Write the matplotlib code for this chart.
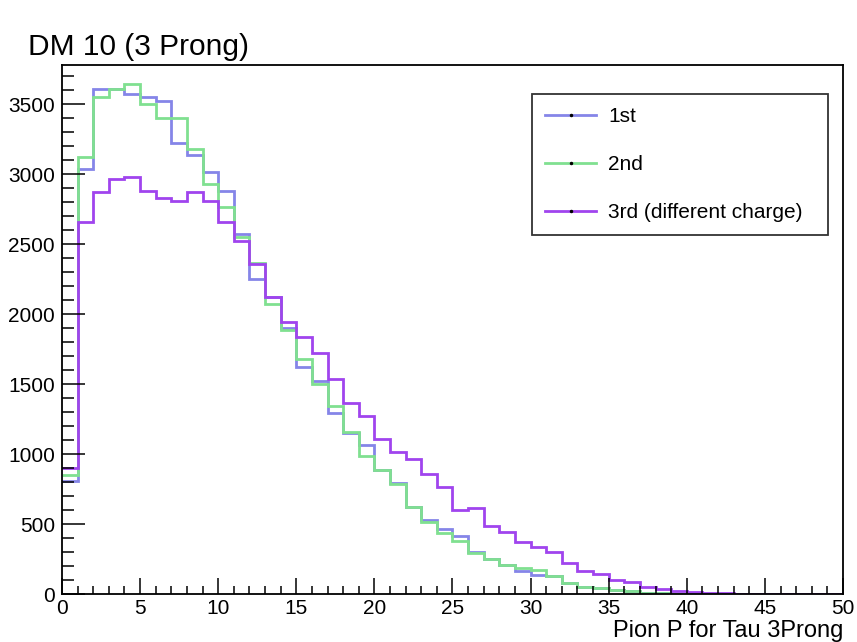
import numpy as np
import matplotlib
matplotlib.use('Agg')
import matplotlib.pyplot as plt
from matplotlib.lines import Line2D
from matplotlib.ticker import MultipleLocator

plt.rcParams['font.family'] = ['Liberation Sans', 'DejaVu Sans']

edges = np.arange(0, 51)

first = [810, 3040, 3610, 3610, 3575, 3550, 3522, 3223, 3140, 3020,
         2880, 2578, 2252, 2123, 1900, 1623, 1527, 1294, 1155, 1068,
         889, 796, 627, 535, 468, 418, 306, 251, 211, 170,
         142, 130, 85, 55, 45, 34, 28, 14, 9, 6,
         4, 3, 2, 2, 1, 1, 1, 0, 0, 0]
second = [850, 3123, 3550, 3610, 3644, 3505, 3401, 3401, 3180, 2932,
          2770, 2552, 2368, 2072, 1890, 1680, 1500, 1346, 1163, 989,
          889, 790, 627, 518, 437, 384, 296, 251, 211, 186,
          177, 135, 84, 51, 44, 33, 26, 10, 8, 5,
          4, 3, 2, 1, 1, 1, 0, 0, 0, 0]
third = [900, 2660, 2877, 2970, 2984, 2880, 2835, 2812, 2872, 2813,
         2662, 2524, 2358, 2123, 1949, 1840, 1727, 1537, 1366, 1277,
         1109, 1020, 966, 858, 768, 600, 620, 489, 449, 377,
         340, 306, 223, 170, 146, 106, 92, 51, 37, 27,
         15, 11, 8, 6, 4, 3, 2, 2, 1, 1]

labels = ['1st', '2nd', '3rd (different charge)']
colors = ['#8585e8', '#80e090', '#a044ee']

fig = plt.figure(figsize=(8.57, 6.42), dpi=100)
ax = fig.add_axes([0.0723, 0.074, 0.9114, 0.8248])

for vals, c in zip([first, second, third], colors):
    ax.stairs(vals, edges, color=c, linewidth=2, baseline=None)

ax.set_xlim(0, 50)
ax.set_ylim(0, 3782)

ax.xaxis.set_major_locator(MultipleLocator(5))
ax.xaxis.set_minor_locator(MultipleLocator(1))
ax.yaxis.set_major_locator(MultipleLocator(500))
ax.yaxis.set_minor_locator(MultipleLocator(100))
ax.tick_params(axis='both', which='both', direction='in', width=1.1,
               top=False, right=False, labelsize=15)
ax.tick_params(axis='y', which='major', length=16.5, pad=5)
ax.tick_params(axis='y', which='minor', length=8.3)
ax.tick_params(axis='x', which='major', length=11.5, pad=3)
ax.tick_params(axis='x', which='minor', length=5.8)
for s in ax.spines.values():
    s.set_linewidth(1.3)

handles = [Line2D([], [], color=c, linewidth=2, marker='o', markersize=1.5,
                  markerfacecolor='black', markeredgecolor='black')
           for c in colors]
leg = ax.legend(handles, labels, loc='upper left',
                bbox_to_anchor=(0.602, 0.677, 0.379, 0.268), mode='expand',
                fontsize=15, frameon=True, fancybox=False, numpoints=1,
                handlelength=2.45, handletextpad=0.58, labelspacing=1.4,
                borderpad=0.62, borderaxespad=0)
leg.get_frame().set_edgecolor('black')
leg.get_frame().set_linewidth(1.3)

fig.text(28 / 857, 1 - 55 / 642, 'DM 10 (3 Prong)', fontsize=21.5,
         va='baseline')
fig.text(843 / 857, 1 - 637 / 642, 'Pion P for Tau 3Prong', fontsize=17,
         ha='right', va='baseline')

fig.savefig('out.png', dpi=100)
